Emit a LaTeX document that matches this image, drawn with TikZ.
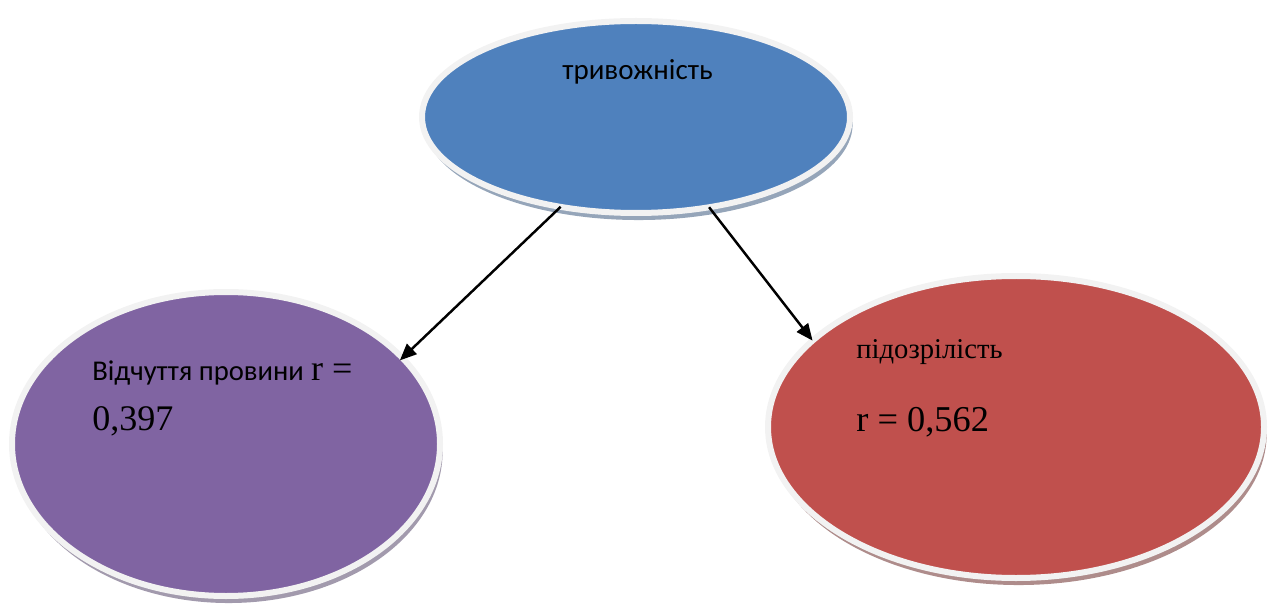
\documentclass[tikz,border=0pt]{standalone}
\usepackage{fontspec}
\setmainfont{Liberation Serif}
\newfontfamily\calibri{Carlito}
\usetikzlibrary{shapes.geometric,shadows,arrows.meta}

\definecolor{ovalblue}{HTML}{4F81BD}
\definecolor{ovalpurple}{HTML}{8064A2}
\definecolor{ovalred}{HTML}{C0504D}
\definecolor{rimgray}{HTML}{F2F2F2}
\definecolor{shblue}{HTML}{95A5B9}
\definecolor{shpurple}{HTML}{A29AAD}
\definecolor{shred}{HTML}{AE8C8B}

\begin{document}
\begin{tikzpicture}[
  oval/.style={ellipse,draw=rimgray,line width=0.12cm,outer sep=0pt,inner sep=0pt},
  arr/.style={black,line width=1.4pt,-{Triangle[length=9.5pt,width=8pt]}},
  lbl/.style={anchor=base west,inner sep=0pt}]

\useasboundingbox (0,0) rectangle (25.7,12.12);

\node [oval,fill=ovalblue,minimum width=8.56cm,minimum height=3.84cm,
  general shadow={fill=shblue,shadow xshift=1.5pt,shadow yshift=-4pt}] (tryv) at (12.72,9.78) {};
\node [oval,fill=ovalpurple,minimum width=8.56cm,minimum height=6.08cm,
  general shadow={fill=shpurple,shadow xshift=1.5pt,shadow yshift=-4pt}] (provyna) at (4.52,3.24) {};
\node [oval,fill=ovalred,minimum width=9.92cm,minimum height=6.04cm,
  general shadow={fill=shred,shadow xshift=1.5pt,shadow yshift=-4pt}] (pidozr) at (20.32,3.58) {};

\node [lbl] (tryvtext) at (11.24,10.52) {\fontsize{16.5}{19}\selectfont\calibri тривожність};
\node [lbl] (provtext) at (1.84,4.52) {\fontsize{16.3}{19}\selectfont{\calibri Відчуття провини} \fontsize{20.5}{24}\selectfont r =};
\node [lbl] (provval) at (1.84,3.52) {\fontsize{20.5}{24}\selectfont 0,397};
\node [lbl] (pidtext) at (17.12,4.96) {\fontsize{16.3}{19}\selectfont підозрілість};
\node [lbl] (pidval) at (17.12,3.5) {\fontsize{20.7}{24}\selectfont r = 0,562};

\draw [arr,shorten >=-2pt] (tryv.230) -- (provyna.26);
\draw [arr] (tryv.309) -- (pidozr.157);

\end{tikzpicture}
\end{document}
